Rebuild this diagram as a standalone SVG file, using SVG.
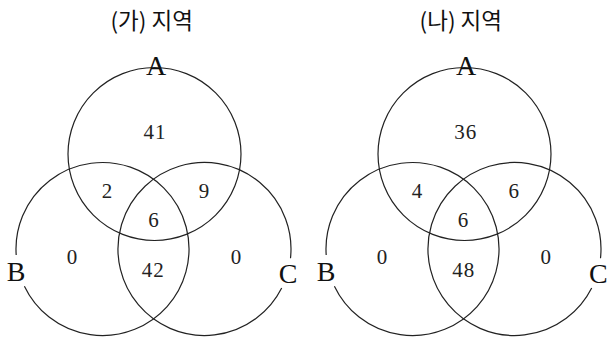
<svg xmlns="http://www.w3.org/2000/svg" width="607" height="339" viewBox="0 0 607 339">
<style>
.c{fill:none;stroke:#222;stroke-width:1.2}
.t{font-family:"Noto Sans CJK KR","Noto Sans",sans-serif;font-size:22.5px;fill:#111;text-anchor:middle}
.l{font-family:"Liberation Serif",serif;font-size:28px;fill:#111;text-anchor:middle}
.n{font-family:"Liberation Serif",serif;font-size:21px;fill:#222;text-anchor:middle;letter-spacing:1px}
</style>
<rect width="607" height="339" fill="#fff"/>
<g id="diagram-ga">
  <text class="t" x="151.7" y="29">(가) 지역</text>
  <g id="ga-circles">
    <circle id="ga-A" class="c" cx="154.5" cy="154" r="86.5"/>
    <path id="ga-B" class="c" d="M 16.2 255 A 86.5 86.5 0 1 1 24.4 286.2"/>
    <path id="ga-C" class="c" d="M 281.7 288 A 86.5 86.5 0 1 1 290.5 258.2"/>
  </g>
  <g id="ga-labels">
    <text class="l" x="156" y="75">A</text>
    <text class="l" x="16.2" y="280.7">B</text>
    <text class="l" x="288" y="282.7">C</text>
  </g>
  <g id="ga-numbers">
    <text class="n" x="155" y="139">41</text>
    <text class="n" x="107.5" y="198">2</text>
    <text class="n" x="204.5" y="198">9</text>
    <text class="n" x="154" y="227">6</text>
    <text class="n" x="72.5" y="264">0</text>
    <text class="n" x="153.2" y="277">42</text>
    <text class="n" x="236.5" y="264">0</text>
  </g>
</g>
<g id="diagram-na">
  <text class="t" x="460.8" y="29">(나) 지역</text>
  <g id="na-circles">
    <circle id="na-A" class="c" cx="464.5" cy="154" r="86.5"/>
    <path id="na-B" class="c" d="M 326.2 255 A 86.5 86.5 0 1 1 334.4 286.2"/>
    <path id="na-C" class="c" d="M 591.7 288 A 86.5 86.5 0 1 1 600.5 258.2"/>
  </g>
  <g id="na-labels">
    <text class="l" x="466" y="75">A</text>
    <text class="l" x="326" y="280.7">B</text>
    <text class="l" x="598.3" y="282.7">C</text>
  </g>
  <g id="na-numbers">
    <text class="n" x="465.8" y="139">36</text>
    <text class="n" x="417.5" y="198">4</text>
    <text class="n" x="514.3" y="198">6</text>
    <text class="n" x="463.5" y="227">6</text>
    <text class="n" x="382.5" y="264">0</text>
    <text class="n" x="463.8" y="277">48</text>
    <text class="n" x="546.2" y="264">0</text>
  </g>
</g>
</svg>
